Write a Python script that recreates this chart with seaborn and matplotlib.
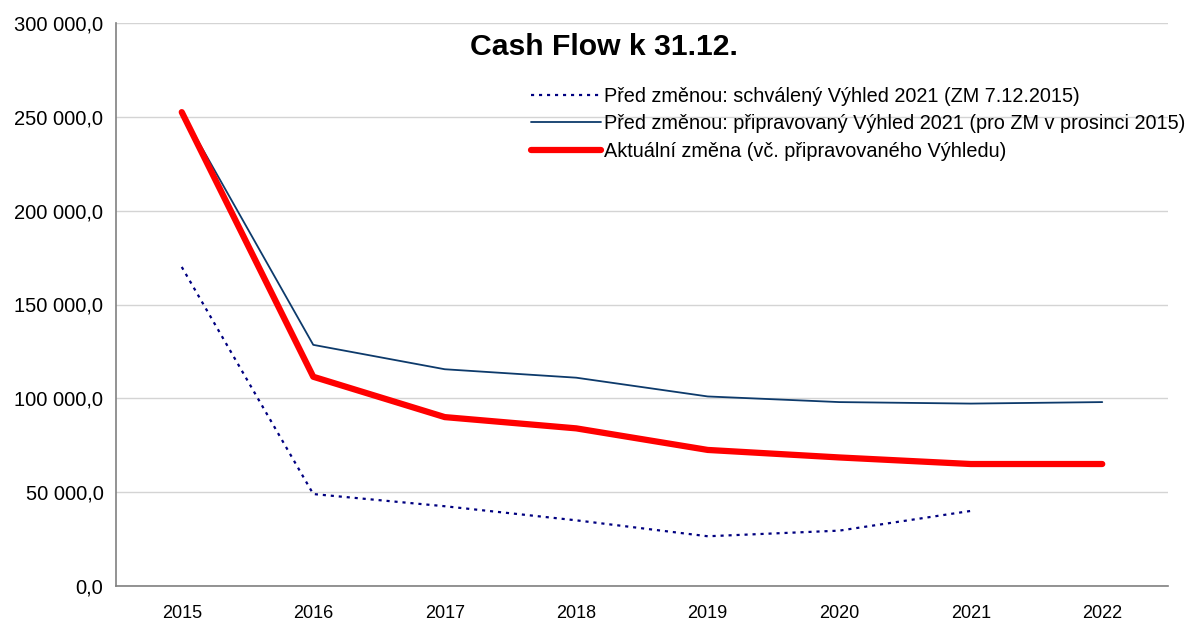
import matplotlib
matplotlib.use("Agg")
import matplotlib.pyplot as plt
import matplotlib.ticker as mticker
import pandas as pd
import seaborn as sns

# values
years = ["2015", "2016", "2017", "2018", "2019", "2020", "2021", "2022"]
schvaleny = [170000, 49000, 42500, 35000, 26500, 29500, 40000]
pripravovany = [252500, 128500, 115500, 111000, 101000, 98000, 97200, 98000]
aktualni = [252500, 111500, 90000, 84000, 72500, 68500, 65000, 65000]

labels = [
    "Před změnou: schválený Výhled 2021 (ZM 7.12.2015)",
    "Před změnou: připravovaný Výhled 2021 (pro ZM v prosinci 2015)",
    "Aktuální změna (vč. připravovaného Výhledu)",
]

sns.set_style("white")
plt.rcParams["font.family"] = ["Liberation Sans", "DejaVu Sans"]
plt.rcParams["text.color"] = "black"
plt.rcParams["xtick.labelcolor"] = "black"
plt.rcParams["ytick.labelcolor"] = "black"


def cz_fmt(v, pos):
    return f"{v:,.1f}".replace(",", " ").replace(".", ",")


fig = plt.figure(figsize=(11.91, 6.25), dpi=100)
ax = fig.add_axes([116 / 1191, 39 / 625, 1052 / 1191, 563 / 625])

df1 = pd.DataFrame({"rok": years[:len(schvaleny)], "v": schvaleny})
df2 = pd.DataFrame({"rok": years, "v": pripravovany})
df3 = pd.DataFrame({"rok": years, "v": aktualni})

sns.lineplot(data=df1, x="rok", y="v", ax=ax, color="#000080", linewidth=1.6,
             linestyle=(0, (1.4, 2.2)), label=labels[0])
sns.lineplot(data=df2, x="rok", y="v", ax=ax, color="#0d3a6b", linewidth=1.3,
             label=labels[1])
sns.lineplot(data=df3, x="rok", y="v", ax=ax, color="#ff0000", linewidth=4.5,
             solid_capstyle="round", solid_joinstyle="round", label=labels[2])

ax.set_xlim(-0.5, len(years) - 0.5)
ax.set_ylim(0, 300000)
ax.yaxis.set_major_locator(mticker.MultipleLocator(50000))
ax.yaxis.set_major_formatter(mticker.FuncFormatter(cz_fmt))
ax.set_xticks(range(len(years)))
ax.set_xticklabels(years)
ax.set_xticks([i - 0.5 for i in range(len(years) + 1)], minor=True)
ax.tick_params(axis="x", which="major", length=0, pad=14, labelsize=13)
ax.tick_params(axis="x", which="minor", length=6, width=1, color="#808080", direction="out")
ax.tick_params(axis="y", length=5, width=1, color="#808080", direction="out", labelsize=14.5, pad=4)
ax.set_xlabel("")
ax.set_ylabel("")
ax.grid(axis="y", color="#d4d4d4", linewidth=1)
for s in ["top", "right"]:
    ax.spines[s].set_visible(False)
for s in ["left", "bottom"]:
    ax.spines[s].set_color("#808080")
    ax.spines[s].set_linewidth(1.2)

fig.text(604 / 1191, 1 - 47 / 625, "Cash Flow k 31.12.", ha="center", va="center",
         fontsize=21.7, fontweight="bold")

leg = ax.legend(loc="upper left", bbox_to_anchor=(531 / 1191, 1 - 87 / 625),
                bbox_transform=fig.transFigure, frameon=False, fontsize=14.3,
                handlelength=3.5, handletextpad=0.2, labelspacing=0.42,
                borderaxespad=0, borderpad=0)

fig.savefig("out.png", dpi=100)
